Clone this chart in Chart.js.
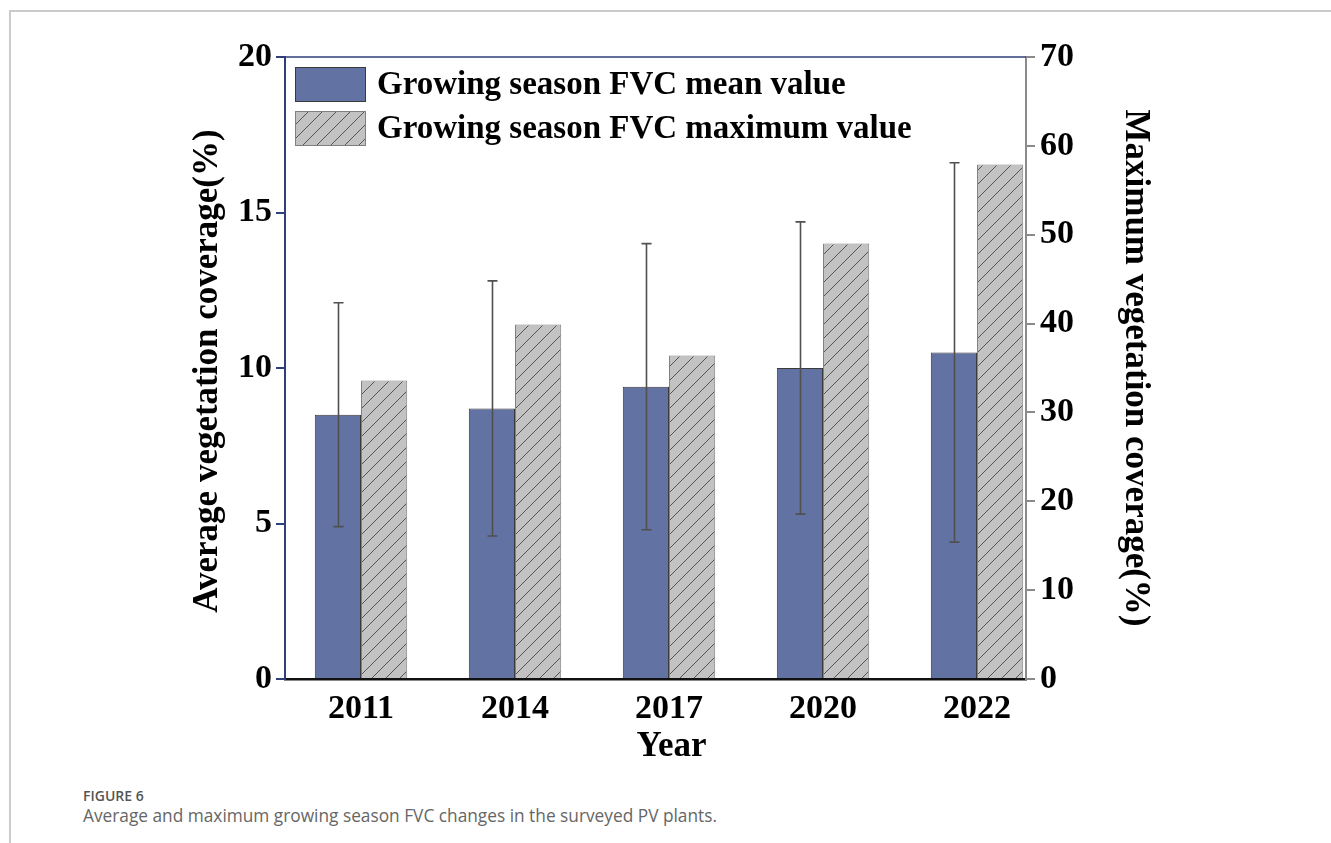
<!DOCTYPE html>
<html>
<head>
<meta charset="utf-8">
<script src="https://cdn.jsdelivr.net/npm/chart.js@4.4.1/dist/chart.umd.min.js"></script>
<style>
  html, body { margin: 0; padding: 0; background: #fff; }
  body { width: 1331px; height: 843px; position: relative; overflow: hidden; }
  #frame { position: absolute; left: 9px; top: 10px; width: 1340px; height: 850px;
           border-top: 2px solid #cbcbcb; border-left: 2px solid #cbcbcb; }
  #wrap { position: absolute; left: 0; top: 0; width: 1331px; height: 780px; }
  #cap { position: absolute; left: 83px; top: 786px; font-family: "Open Sans", "Noto Sans", sans-serif; }
  #cap .num { font-size: 14px; font-weight: 600; color: #555; line-height: 19px; }
  #cap .txt { font-size: 17.3px; color: #666; line-height: 22px; }
</style>
</head>
<body>
<div id="frame"></div>
<div id="wrap"><canvas id="chart"></canvas></div>
<div id="cap">
  <div class="num">FIGURE 6</div>
  <div class="txt">Average and maximum growing season FVC changes in the surveyed PV plants.</div>
</div>
<script>
// Survey years and growing-season FVC statistics (%)
const years      = ['2011', '2014', '2017', '2020', '2022'];
const meanFVC    = [8.5, 8.7, 9.4, 10.0, 10.5];
const meanLow    = [4.9, 4.6, 4.8, 5.3, 4.4];
const meanHigh   = [12.1, 12.8, 14.0, 14.7, 16.6];
const maxFVC     = [33.6, 39.9, 36.4, 49.0, 57.9];
const leftTicks  = [0, 5, 10, 15, 20];
const rightTicks = [0, 10, 20, 30, 40, 50, 60, 70];

const SERIF = '"Liberation Serif", "Times New Roman", serif';
const BLUE = '#6273a3';
const NAVY = '#2f3f78';

// diagonal hatch used for the maximum-value bars
function makeHatch(ctx) {
  const s = 14;
  const c = document.createElement('canvas');
  c.width = s; c.height = s;
  const g = c.getContext('2d');
  g.fillStyle = '#c2c2c2';
  g.fillRect(0, 0, s, s);
  g.strokeStyle = '#555';
  g.lineWidth = 1;
  g.beginPath();
  for (let k = 0; k <= 2; k++) {
    g.moveTo(-2, k * s + 2);
    g.lineTo(k * s + 2, -2);
  }
  g.stroke();
  return ctx.createPattern(c, 'repeat');
}

const canvas = document.getElementById('chart');
const ctx = canvas.getContext('2d');
const hatch = makeHatch(ctx);

// whiskers on the mean bars
const errorBars = {
  id: 'errorBars',
  afterDatasetsDraw(chart) {
    const meta = chart.getDatasetMeta(0);
    const ys = chart.scales.y;
    const c = chart.ctx;
    c.save();
    c.strokeStyle = '#505050';
    c.lineWidth = 1.6;
    meta.data.forEach((bar, i) => {
      const x = Math.round(bar.x) + 0.5;
      const yTop = ys.getPixelForValue(meanHigh[i]);
      const yBot = ys.getPixelForValue(meanLow[i]);
      c.beginPath();
      c.moveTo(x, yTop); c.lineTo(x, yBot);
      c.moveTo(x - 5, yTop); c.lineTo(x + 5, yTop);
      c.moveTo(x - 5, yBot); c.lineTo(x + 5, yBot);
      c.stroke();
    });
    c.restore();
  }
};

// top edge of the plot frame, legend and axis titles
const decorations = {
  id: 'decorations',
  afterDraw(chart) {
    const c = chart.ctx;
    const a = chart.chartArea;
    c.save();
    c.strokeStyle = NAVY;
    c.lineWidth = 1.5;
    c.beginPath();
    c.moveTo(a.left, a.top); c.lineTo(a.right, a.top);
    c.stroke();

    // legend
    const ds = chart.data.datasets;
    const bx = a.left + 10, bw = 71, bh = 35;
    const rows = [a.top + 10, a.top + 54];
    c.font = 'bold 33px ' + SERIF;
    c.textBaseline = 'middle';
    c.textAlign = 'left';
    ds.forEach((d, i) => {
      const y = rows[i];
      c.fillStyle = d.backgroundColor;
      c.fillRect(bx, y, bw, bh);
      c.strokeStyle = d.borderColor;
      c.lineWidth = 1;
      c.strokeRect(bx + 0.5, y + 0.5, bw - 1, bh - 1);
      c.fillStyle = '#000';
      c.fillText(d.label, bx + bw + 11, y + bh / 2 + 1);
    });

    // axis titles
    c.font = 'bold 35px ' + SERIF;
    c.textAlign = 'center';
    c.fillStyle = '#000';
    c.save();
    c.translate(208, (a.top + a.bottom) / 2 + 3);
    c.rotate(-Math.PI / 2);
    c.fillText('Average vegetation coverage(%)', 0, 0);
    c.restore();
    c.save();
    c.translate(1135, (a.top + a.bottom) / 2 + 0);
    c.rotate(Math.PI / 2);
    c.fillText('Maximum vegetation coverage(%)', 0, 0);
    c.restore();
    c.fillText('Year', (a.left + a.right) / 2 + 16, 747);
    c.restore();
  }
};

const tickFont = { family: SERIF, size: 34, weight: 'bold' };

new Chart(ctx, {
  type: 'bar',
  data: {
    datasets: [
      {
        label: 'Growing season FVC mean value',
        data: years.map((_, i) => ({ x: i, y: meanFVC[i] })),
        yAxisID: 'y',
        backgroundColor: BLUE,
        borderColor: '#3a3a3a',
        borderWidth: 1,
        categoryPercentage: 0.6,
        barPercentage: 1.0
      },
      {
        label: 'Growing season FVC maximum value',
        data: years.map((_, i) => ({ x: i, y: maxFVC[i] })),
        yAxisID: 'y1',
        backgroundColor: hatch,
        borderColor: '#808080',
        borderWidth: 1,
        categoryPercentage: 0.6,
        barPercentage: 1.0
      }
    ]
  },
  options: {
    responsive: true,
    maintainAspectRatio: false,
    animation: false,
    layout: { padding: { top: 57, left: 0, right: 0, bottom: 0 } },
    plugins: { legend: { display: false }, tooltip: { enabled: false } },
    scales: {
      x: {
        type: 'linear',
        offset: false,
        min: -0.4935,
        max: 4.318,
        afterBuildTicks: s => { s.ticks = years.map((_, i) => ({ value: i })); },
        afterFit: s => { s.height = 101; },
        grid: { display: false, drawTicks: false },
        border: { display: true, color: '#111', width: 2.5 },
        ticks: {
          callback: v => years[v],
          font: tickFont, color: '#000', padding: 10,
          maxRotation: 0, autoSkip: false
        }
      },
      y: {
        position: 'left',
        min: 0, max: 20,
        afterBuildTicks: s => { s.ticks = leftTicks.map(v => ({ value: v })); },
        afterFit: s => { s.width = 285; },
        grid: { drawOnChartArea: false, drawTicks: true, tickLength: 9, color: NAVY, lineWidth: 2 },
        border: { color: NAVY, width: 2 },
        ticks: { font: tickFont, color: '#000', padding: 4 }
      },
      y1: {
        position: 'right',
        min: 0, max: 70,
        afterBuildTicks: s => { s.ticks = rightTicks.map(v => ({ value: v })); },
        afterFit: s => { s.width = 305; },
        grid: { drawOnChartArea: false, drawTicks: true, tickLength: 9, color: '#8a8a8a', lineWidth: 2 },
        border: { color: '#8a8a8a', width: 2 },
        ticks: { font: tickFont, color: '#000', padding: 5 }
      }
    }
  },
  plugins: [errorBars, decorations]
});
</script>
</body>
</html>
